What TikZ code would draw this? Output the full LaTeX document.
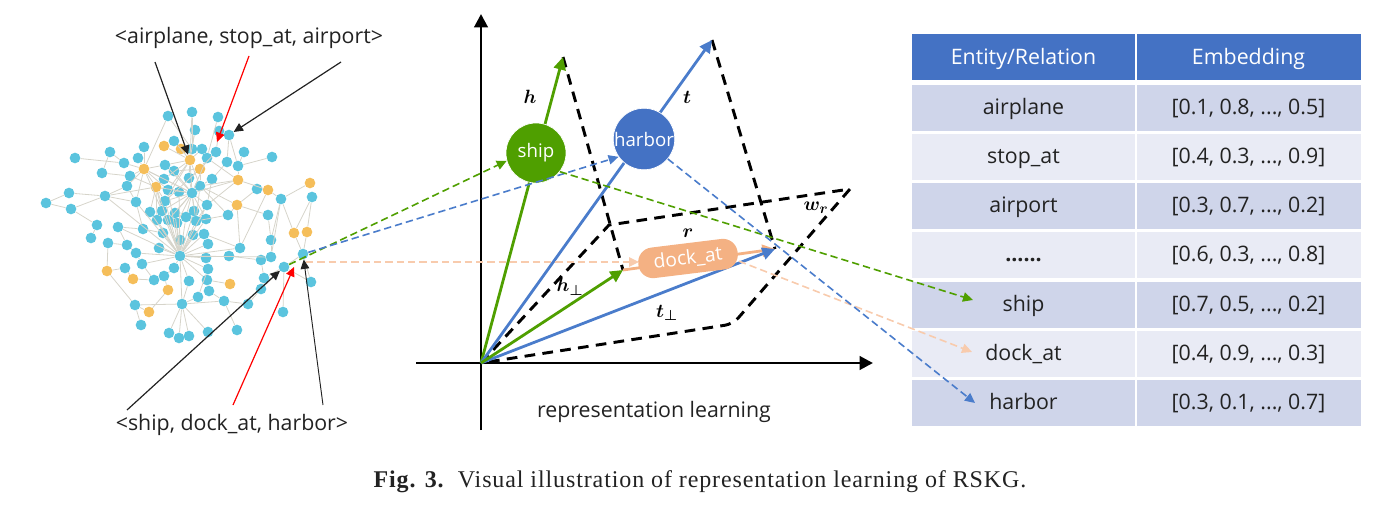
\documentclass[tikz,border=0pt]{standalone}
\usepackage{amsmath, amsfonts, amssymb}
\usepackage{fontspec}
\setmainfont{Open Sans}
\newfontfamily\capfont[LetterSpace=3.7]{Liberation Serif}
\usepackage{tikz}
\usetikzlibrary{positioning, arrows.meta, shapes.geometric}
\definecolor{bluedot}{HTML}{5BC4DE}
\definecolor{orangedot}{HTML}{F5BE5A}
\definecolor{edgegray}{HTML}{D6D4CA}
\definecolor{shipgreen}{HTML}{4F9F00}
\definecolor{harborblue}{HTML}{4472C4}
\definecolor{vecblue}{HTML}{4A7CCB}
\definecolor{dockorange}{HTML}{F4B183}
\definecolor{dashorange}{HTML}{F8CBAD}
\definecolor{rowdark}{HTML}{CFD5EA}
\definecolor{rowlight}{HTML}{E9EBF5}
\definecolor{inkgray}{HTML}{222222}
\tikzset{
  bdot/.style={circle, fill=bluedot, inner sep=0pt, minimum size=8pt},
  odot/.style={circle, fill=orangedot, inner sep=0pt, minimum size=8pt},
  edge/.style={edgegray, line width=0.6pt},
  note/.style={line width=0.9pt, -{Triangle[length=7pt,width=6.5pt]}},
  axis/.style={black, line width=2.2pt, -{Triangle[length=10pt,width=10pt]}},
  vec/.style={line width=2.1pt, -{Triangle[length=9.5pt,width=9pt]}},
  plane/.style={black, line width=2.2pt, dash pattern=on 8pt off 5.5pt},
  thin dash/.style={line width=1.2pt, dash pattern=on 5.5pt off 3pt, -{Triangle[length=7.5pt,width=7pt]}},
  ball/.style={circle, draw=white, line width=0.5pt, minimum size=45pt, inner sep=0pt, text=white, font=\fontsize{14}{17}\selectfont},
  cell/.style={minimum height=35.2pt, inner sep=0pt, text=inkgray, text height=13pt, text depth=3pt, font=\fontsize{16}{19}\selectfont},
  word/.style={text=inkgray, text height=13pt, text depth=4pt, font=\fontsize{16}{19}\selectfont, inner sep=0pt},
  sym/.style={inner sep=0pt, font=\fontsize{15}{18}\selectfont}
}
\begin{document}
\begin{tikzpicture}[x=0.75pt, y=-0.75pt]
\useasboundingbox (0,0) rectangle (1387,510);
\foreach \x/\y [count=\i] in {168/116,192/112,218/117,195/130,219/131,229/135,174/141,144/147,202/149,192/149,216/152,207/158,110/152,75/158,138/158,124/163,244/152,272/157,227/162,238/166,165/165,174/171,102/173,130/176,164/179,189/178,212/179,200/186,127/186,168/190,179/192,192/193,257/189,69/193,105/196,281/199,312/197,165/201,136/202,207/205,46/203,71/209,162/211,150/212,175/213,194/211,228/215,268/215,186/217,157/220,168/220,196/221,206/219,177/223,97/225,118/227,143/229,163/233,193/235,204/234,91/238,108/243,180/240,127/245,208/244,271/240,136/253,159/248,240/248,180/256,206/258,229/256,271/257,261/260,303/254,142/264,125/268,174/268,208/269,284/267,164/276,154/280,189/281,207/280,264/278,311/282,261/289,209/291,198/297,224/301,182/304,135/305,248/304,283/312,141/325,208/332,237/330,169/333,179/338,189/336}
  \node[bdot] (b\i) at (\x,\y) {};
\foreach \x/\y [count=\i] in {164/146,181/149,190/160,144/169,200/169,238/180,156/187,268/190,310/183,237/205,294/233,307/232,107/271,133/279,168/290,230/284,149/312}
  \node[odot] (o\i) at (\x,\y) {};
\foreach \a/\b in {b1/o4,b2/b10,b4/b10,b4/o3,b3/b12,b5/b11,b6/b20,b6/b19,b7/o3,o1/o3,o2/o3,b8/o4,b9/o3,b10/o3,b11/o5,b12/o5,b13/b16,b13/b23,b14/b16,b15/o4,b16/o4,b17/b20,b18/b20,b19/b27,b20/o6,b21/o4,b21/b32,b22/b32,b23/b24,b24/o4,b24/o7,b25/o7,b25/b32,b26/b32,o3/b26,o3/b32,b27/b28,o5/b28,b28/b32,b29/o4,b29/b39,b30/o7,o7/o4,o7/b38,o7/b43,o7/b44,o7/b50,o7/b35,b31/b32,b30/b32,b33/o8,o8/b36,o9/b36,b36/o11,b37/o12,b37/o11,b34/b35,b34/b41,b41/b42,b42/b35,b35/b39,b35/b29,b39/b57,b42/b55,b55/b61,b56/b64,b56/b57,b57/b58,b62/b64,b62/o13,b64/b67,b67/b76,b76/b82,o13/b77,o13/b92,b92/o17,o17/o15,o15/b81,b82/b81,b81/b78,b78/b70,b83/b70,b84/b70,b71/b70,b79/b70,b72/b70,b69/b70,b65/b70,b68/b70,b63/b70,b58/b70,b59/b70,b60/b70,b50/b70,b51/b70,b54/b70,b53/b70,b52/b70,b49/b70,b67/b70,b76/b70,b73/b70,b79/b89,b84/b88,b88/b90,b89/b91,b83/b91,b91/b70,b91/b92,b91/b96,b91/b98,b91/b99,b91/b100,o14/b77,o14/b82,b92/b95,b91/b90,b97/b90,b93/b90,b87/b93,b87/b85,b85/b74,b73/b66,b66/b36,b69/b60,b85/b80,b80/b94,b75/o11,b75/o12,b75/b80,b75/b86,b80/b86,b80/b87,b74/b72,b73/b74,o16/b84,b47/o10,b47/b52,o10/b28,b48/b66,o10/b69,b28/b47,b32/b43,b32/b45,b32/b46,b32/b49,b32/b51,b32/b52,b32/b53,b32/b54,b32/b38,b40/b32,b40/b52,b44/b50,b43/b50,b45/b51,o6/b32,b12/b32,o4/b39,o4/b30,o4/b43,o4/b25,o4/b32,o7/b32,o7/b70,o3/b25,o3/b28,o3/b30,o3/b38,b21/o3,b22/o5,b26/o5,b12/o6,o5/b38,b38/b70,b43/b70,b44/b70,b45/b70,b46/b70,b40/b70,b31/b70,b30/b70,b39/b70,b56/b70,b35/b70,b28/b52,b28/o6,o6/b40,b27/b40,b33/o10,o10/b48,b36/b73,o8/b69,o6/o8,b2/o3,b1/b10}
  \draw[edge] (\a) -- (\b);

\node[word] (triple1) at (249,38) {<airplane, stop\_at, airport>};
\node[word] (triple2) at (232,424.5) {<ship, dock\_at, harbor>};
\coordinate (n1) at (155,62);
\coordinate (n2) at (249,56);
\coordinate (n3) at (341,62);
\coordinate (n4) at (127,410);
\coordinate (n5) at (233,405);
\coordinate (n6) at (323,405);
\coordinate (rel1) at (217,142);
\coordinate (rel2) at (294,267);
\draw[note, inkgray] (n1) -- (o3);
\draw[note, red] (n2) -- (rel1);
\draw[note, inkgray] (n3) -- (b6);
\draw[note, inkgray] (n4) -- (b80);
\draw[note, red] (n5) -- (rel2);
\draw[note, inkgray, line width=0.7pt] (n6) -- (b75);

\coordinate (O) at (481,363);
\coordinate (xneg) at (416,363);
\coordinate (xpos) at (873,363);
\coordinate (yneg) at (481,430);
\coordinate (ypos) at (481,14);
\coordinate (htip) at (563,57);
\coordinate (ttip) at (712,40);
\coordinate (hp) at (623,270);
\coordinate (tp) at (775,249);
\coordinate (wa) at (609,225);
\coordinate (wb) at (850,189);
\coordinate (wc) at (733,324);
\draw[axis] (xneg) -- (xpos);
\draw[axis] (yneg) -- (ypos);
\draw[plane] (htip) -- (hp);
\draw[plane] (ttip) -- (tp);
\draw[plane] (O) -- (wa) -- (wb) [rounded corners=6pt] -- (wc) [sharp corners] -- cycle;
\draw[vec, shipgreen] (O) -- (htip);
\draw[vec, vecblue] (O) -- (ttip);
\draw[vec, dockorange] (hp) -- (tp);
\draw[vec, vecblue] (O) -- (tp);
\draw[vec, shipgreen] (O) -- (hp);
\node[ball, fill=shipgreen] (ship) at (536,153) {ship};
\node[ball, fill=harborblue] (harbor) at (644,139) {harbor};
\node[rectangle, rounded corners=11pt, fill=dockorange, minimum width=75pt, minimum height=23pt, inner sep=0pt, text=white, rotate=7, font=\fontsize{14.5}{17}\selectfont] (dock) at (688,258.5) {dock\_at};
\node[sym] (hlab) at (530,97) {$\boldsymbol{h}$};
\node[sym] (tlab) at (687,97) {$\boldsymbol{t}$};
\node[sym] (rlab) at (688,233) {$\boldsymbol{r}$};
\node[sym] (wlab) at (816,208) {$\boldsymbol{w_r}$};
\node[sym] (hplab) at (570,287) {$\boldsymbol{h}_{\boldsymbol{\perp}}$};
\node[sym] (tplab) at (667,313) {$\boldsymbol{t}_{\boldsymbol{\perp}}$};
\node[word] (replab) at (654,411) {representation learning};

\node[cell, fill=harborblue, text=white, text depth=2pt, minimum width=167pt, minimum height=34.5pt] (head1) at (1023.5,57) {Entity/Relation};
\node[cell, fill=harborblue, text=white, text depth=2pt, minimum width=168pt, minimum height=34.5pt] (head2) at (1248.5,57) {Embedding};
\foreach \y/\ent/\emb/\shade [count=\i] in {
  108/airplane/{[0.1, 0.8, ..., 0.5]}/rowdark,
  157/stop\_at/{[0.4, 0.3, ..., 0.9]}/rowlight,
  206/airport/{[0.3, 0.7, ..., 0.2]}/rowdark,
  255/\textbf{......}/{[0.6, 0.3, ..., 0.8]}/rowlight,
  305/ship/{[0.7, 0.5, ..., 0.2]}/rowdark,
  354/dock\_at/{[0.4, 0.9, ..., 0.3]}/rowlight,
  403/harbor/{[0.3, 0.1, ..., 0.7]}/rowdark} {
  \node[cell, fill=\shade, minimum width=167pt] (ent\i) at (1023.5,\y) {\ent};
  \node[cell, fill=\shade, minimum width=168pt] (emb\i) at (1248.5,\y) {\emb};
}
\coordinate (shipend) at (973,300);
\coordinate (dockend) at (972,352);
\coordinate (harborend) at (975,403);
\coordinate (start) at (306,262);
\coordinate (dockin) at (639,262);
\draw[thin dash, shipgreen] (b80) -- (ship.195);
\draw[thin dash, vecblue] (b75) -- (harbor.215);
\draw[thin dash, dashorange] (start) -- (dockin);
\draw[thin dash, shipgreen] (ship.-38) -- (shipend);
\draw[thin dash, dashorange] (dock.-10) -- (dockend);
\draw[thin dash, vecblue] (harbor.-40) -- (harborend);

\node[inner sep=0pt, text=inkgray, font=\capfont\fontsize{18}{21}\selectfont] (caption) at (700,482) {\textbf{Fig. 3.}\hspace{10pt}Visual illustration of representation learning of RSKG.};
\end{tikzpicture}
\end{document}
